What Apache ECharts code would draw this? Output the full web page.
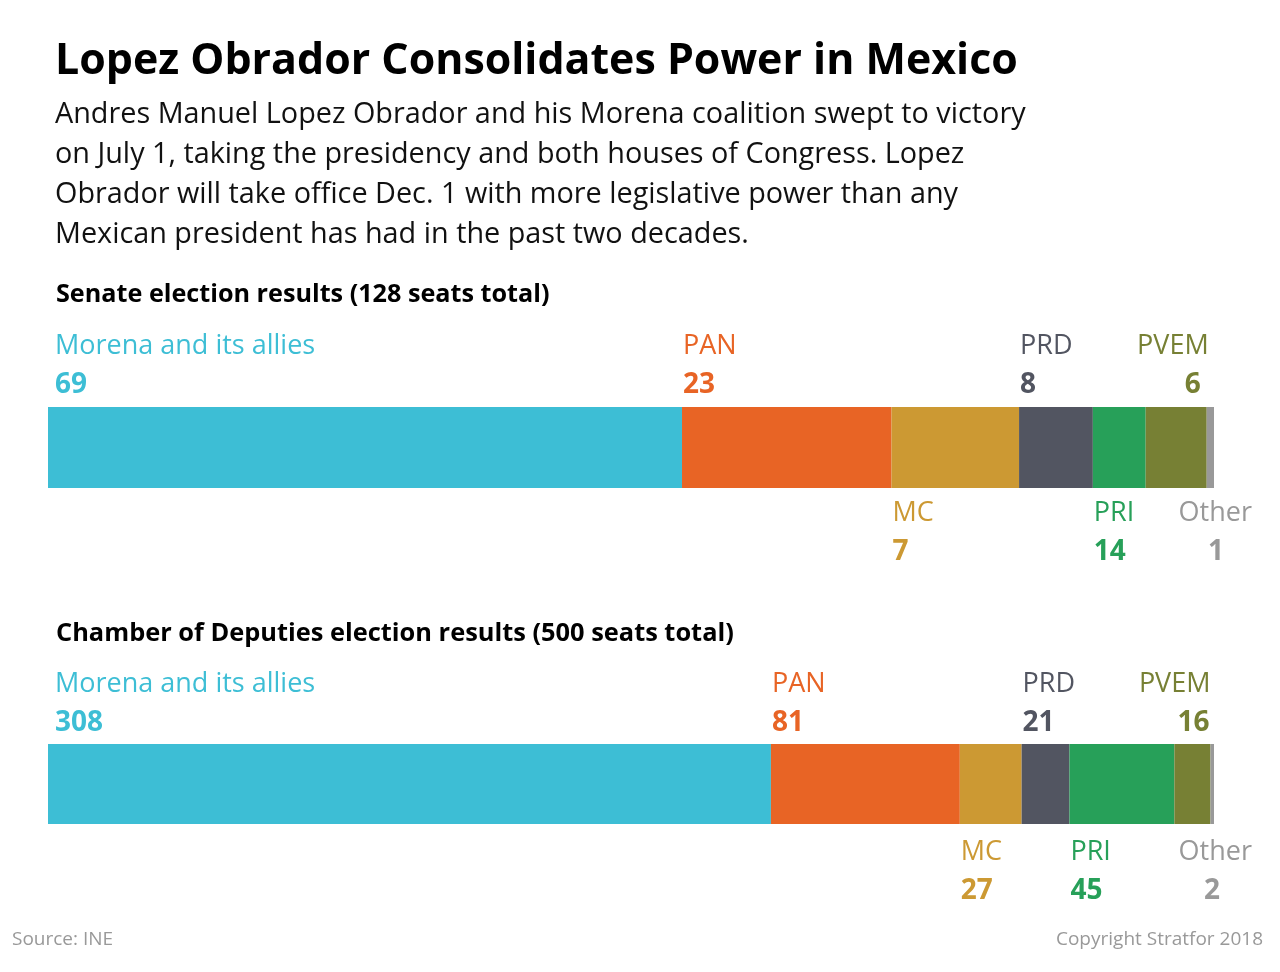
<!DOCTYPE html>
<html>
<head>
<meta charset="utf-8">
<script src="https://cdn.jsdelivr.net/npm/echarts@6/dist/echarts.min.js"></script>
<style>
  html, body { margin: 0; padding: 0; background: #fff; }
  #chart { width: 1280px; height: 972px; }
</style>
</head>
<body>
<div id="chart"></div>
<script>
const parties = ['Morena and its allies', 'PAN', 'MC', 'PRD', 'PRI', 'PVEM', 'Other'];
const colors = ['#3dbed5', '#e86425', '#cc9933', '#525561', '#27a059', '#778034', '#999999'];

// seat counts as printed on the chart
const senateSeats = [69, 23, 7, 8, 14, 6, 1];
const deputySeats = [308, 81, 27, 21, 45, 16, 2];
// segment lengths as drawn in the original graphic (senate MC / PRI / PVEM bars
// don't follow the printed numbers there, so they're read off separately)
const senateBars = [69.6, 23, 14, 8.1, 5.8, 6.7, 0.8];
const deputyBars = [310, 81, 26.5, 20.5, 45, 15.5, 1.5];
const senateTotal = 128;
const deputyTotal = 500;

const FONT = '"Open Sans"';

// where each party's label sits relative to its segment ([senate, deputies])
const place = [
  { side: 'top', align: 'left', dx: [7, 7], pad: [0, 0] },
  { side: 'top', align: 'left', dx: [1, 1], pad: [0, 0] },
  { side: 'bottom', align: 'left', dx: [1, 1], pad: [0, 0] },
  { side: 'top', align: 'left', dx: [1, 1], pad: [0, 0] },
  { side: 'bottom', align: 'left', dx: [1, 1], pad: [0, 0] },
  { side: 'top', align: 'right', dx: [2, 0], pad: [8, 1] },
  { side: 'bottom', align: 'right', dx: [38, 38], pad: [28, 32] }
];
const labelTop = [-2, -1.5];
const labelBottom = [87, 89];

function makeSeries(bars, seats, h) {
  return bars.map((v, i) => {
    const p = place[i];
    const right = p.align === 'right';
    const top = p.side === 'top';
    return {
      name: parties[i],
      type: 'bar',
      stack: 'house' + h,
      xAxisIndex: h,
      yAxisIndex: h,
      barWidth: '100%',
      data: [v],
      itemStyle: { color: colors[i] },
      emphasis: { disabled: true },
      label: {
        show: true,
        position: [right ? '100%' : 0, top ? labelTop[h] : labelBottom[h]],
        offset: [p.dx[h], 0],
        align: p.align,
        verticalAlign: top ? 'bottom' : 'top',
        formatter: '{n|' + parties[i] + '}\n{v|' + seats[i] + '}',
        rich: {
          n: {
            fontFamily: FONT, fontSize: 27, color: colors[i],
            lineHeight: 39, align: p.align
          },
          v: {
            fontFamily: FONT, fontSize: 28, fontWeight: 'bold', color: colors[i],
            lineHeight: 39, align: p.align, padding: [0, p.pad[h], 0, 0]
          }
        }
      }
    };
  });
}

function heading(text, left, top, size, weight, color, lh) {
  return {
    text: text, left: left, top: top, padding: 0,
    textStyle: { fontFamily: FONT, fontSize: size, fontWeight: weight, color: color, lineHeight: lh }
  };
}

const chart = echarts.init(document.getElementById('chart'));
chart.setOption({
  animation: false,
  backgroundColor: '#fff',
  title: [
    heading('Lopez Obrador Consolidates Power in Mexico', 55, 34, 42.9, 'bold', '#000', 56),
    heading('Andres Manuel Lopez Obrador and his Morena coalition swept to victory\n' +
      'on July 1, taking the presidency and both houses of Congress. Lopez\n' +
      'Obrador will take office Dec. 1 with more legislative power than any\n' +
      'Mexican president has had in the past two decades.', 55, 95, 28.8, 'normal', '#111', 40),
    heading('Senate election results (128 seats total)', 56, 280, 25.2, 'bold', '#000', 30),
    heading('Chamber of Deputies election results (500 seats total)', 56, 619, 25.4, 'bold', '#000', 30),
    heading('Source: INE', 12, 928, 19, 'normal', '#999', 24),
    {
      text: 'Copyright Stratfor 2018', right: 17, top: 928, padding: 0,
      textStyle: { fontFamily: FONT, fontSize: 19, fontWeight: 'normal', color: '#999', lineHeight: 24 }
    }
  ],
  grid: [
    { left: 48, width: 1166, top: 407, height: 81 },
    { left: 48, width: 1166, top: 744, height: 80 }
  ],
  xAxis: [
    { gridIndex: 0, type: 'value', min: 0, max: senateTotal, show: false },
    { gridIndex: 1, type: 'value', min: 0, max: deputyTotal, show: false }
  ],
  yAxis: [
    { gridIndex: 0, type: 'category', data: ['Senate'], show: false },
    { gridIndex: 1, type: 'category', data: ['Chamber of Deputies'], show: false }
  ],
  series: makeSeries(senateBars, senateSeats, 0).concat(makeSeries(deputyBars, deputySeats, 1))
});
</script>
</body>
</html>
